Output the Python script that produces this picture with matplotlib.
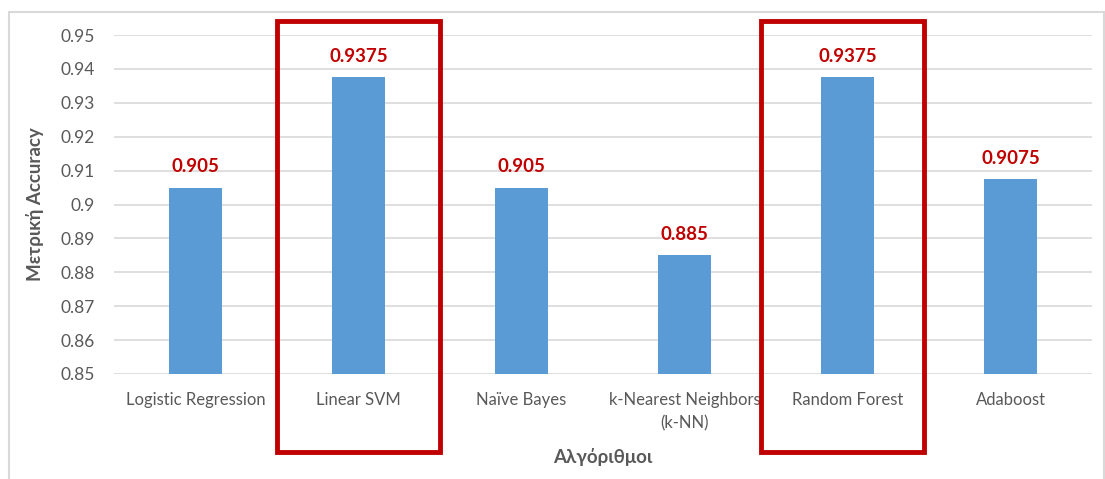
import matplotlib
matplotlib.use("Agg")
import matplotlib.pyplot as plt
from matplotlib.patches import Rectangle
import matplotlib.transforms as mtransforms

algorithms = ["Logistic Regression", "Linear SVM", "Naïve Bayes",
              "k-Nearest Neighbors\n(k-NN)", "Random Forest", "Adaboost"]
accuracy = [0.905, 0.9375, 0.905, 0.885, 0.9375, 0.9075]
value_labels = ["0.905", "0.9375", "0.905", "0.885", "0.9375", "0.9075"]
highlighted = [1, 4]
y_ticks = [0.85, 0.86, 0.87, 0.88, 0.89, 0.90, 0.91, 0.92, 0.93, 0.94, 0.95]
y_tick_labels = ["0.85", "0.86", "0.87", "0.88", "0.89", "0.9", "0.91",
                 "0.92", "0.93", "0.94", "0.95"]

plt.rcParams["font.family"] = ["Lato", "DejaVu Sans"]

W, H = 1105, 479
fig = plt.figure(figsize=(W / 100, H / 100), dpi=100)
ax = fig.add_axes([114 / W, 1 - 374 / H, (1092 - 114) / W, (374 - 35) / H])

x = list(range(len(algorithms)))
base = 0.85
ax.bar(x, [v - base for v in accuracy], bottom=base, width=0.32,
       color="#5B9BD5", zorder=3)

for xi, v, lab in zip(x, accuracy, value_labels):
    ax.annotate(lab, (xi, v), xytext=(0, 9), textcoords="offset points",
                ha="center", va="bottom", color="#C00000",
                fontsize=13.5, fontweight="bold")

ax.set_xlim(-0.5, len(algorithms) - 0.5)
ax.set_ylim(0.85, 0.95)
ax.set_yticks(y_ticks)
ax.set_yticklabels(y_tick_labels)
ax.set_xticks(x)
ax.set_xticklabels(algorithms, linespacing=1.55)
ax.tick_params(axis="y", length=0, labelsize=12.5, labelcolor="#595959", pad=14)
ax.tick_params(axis="x", length=0, labelsize=12, labelcolor="#595959", pad=13)
ax.grid(axis="y", color="#D9D9D9", linewidth=1.2, zorder=0)
for s in ax.spines.values():
    s.set_visible(False)

ax.set_ylabel("Μετρική Accuracy", fontsize=13.5, fontweight="bold",
              color="#595959", labelpad=12)
ax.set_xlabel("Αλγόριθμοι", fontsize=13.5, fontweight="bold",
              color="#595959", labelpad=12)

# Red frames around the best-performing algorithms
trans = mtransforms.blended_transform_factory(ax.transData, fig.transFigure)
frame_shift = {1: 0.0, 4: -0.03}
for idx in highlighted:
    rect = Rectangle((idx - 0.5 + frame_shift[idx], 1 - 452 / H), 1.0,
                     (452 - 21) / H, transform=trans, fill=False,
                     edgecolor="#C00000", linewidth=3.5, clip_on=False,
                     zorder=5)
    fig.add_artist(rect)

# Chart area border
fig.add_artist(Rectangle((9 / W, -0.05), (1104 - 9) / W, 1.05 - 12 / H,
                         transform=fig.transFigure, fill=False,
                         edgecolor="#D9D9D9", linewidth=1.5))

fig.savefig("out.png", dpi=100, facecolor="white")
